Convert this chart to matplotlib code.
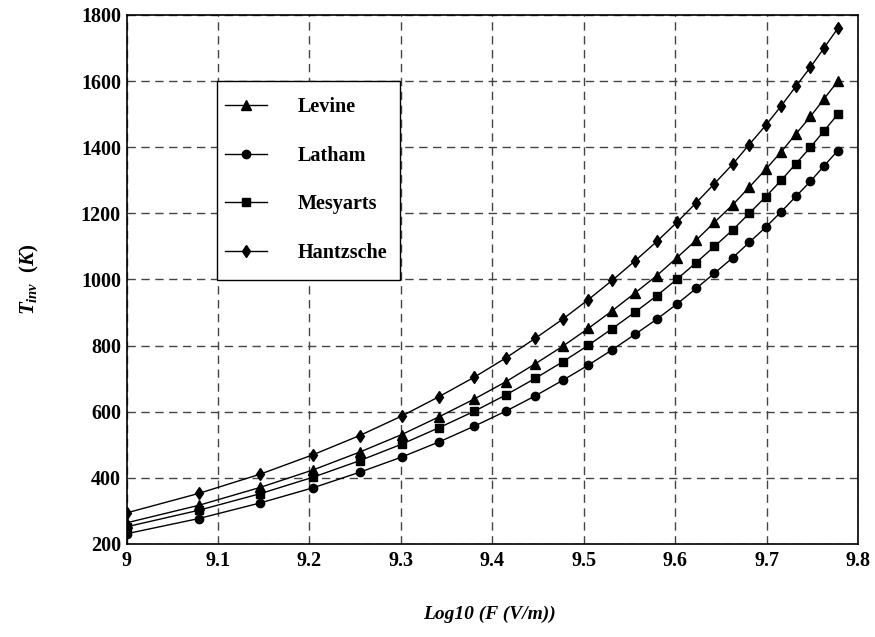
import matplotlib
matplotlib.use("Agg")
import matplotlib.pyplot as plt
from matplotlib.patches import Rectangle

log_f = [9.000, 9.079, 9.146, 9.204, 9.255, 9.301, 9.342, 9.380, 9.415, 9.447,
         9.477, 9.505, 9.531, 9.556, 9.580, 9.602, 9.623, 9.643, 9.663, 9.681,
         9.699, 9.716, 9.732, 9.748, 9.763, 9.778]

levine = [264, 317, 371, 424, 478, 531, 585, 638, 691, 745, 798, 852, 905, 959,
          1012, 1066, 1119, 1173, 1226, 1279, 1333, 1386, 1440, 1493, 1547, 1600]
latham = [231, 277, 324, 370, 417, 463, 509, 556, 602, 648, 695, 741, 787, 834,
          880, 926, 973, 1019, 1066, 1112, 1158, 1205, 1251, 1297, 1344, 1390]
mesyarts = [252, 302, 352, 402, 452, 502, 552, 601, 651, 701, 751, 801, 851, 901,
            951, 1001, 1051, 1100, 1150, 1200, 1250, 1300, 1350, 1400, 1450, 1500]
hantzsche = [294, 353, 411, 470, 528, 587, 646, 704, 763, 822, 880, 939, 997, 1056,
             1115, 1173, 1232, 1290, 1349, 1408, 1466, 1525, 1584, 1642, 1701, 1760]

x_ticks = [9, 9.1, 9.2, 9.3, 9.4, 9.5, 9.6, 9.7, 9.8]
x_tick_labels = ["9", "9.1", "9.2", "9.3", "9.4", "9.5", "9.6", "9.7", "9.8"]
y_ticks = [200, 400, 600, 800, 1000, 1200, 1400, 1600, 1800]

plt.rcParams['font.family'] = ['Liberation Serif', 'DejaVu Serif']
plt.rcParams['mathtext.fontset'] = 'custom'
plt.rcParams['mathtext.it'] = 'Liberation Serif:italic:bold'
plt.rcParams['mathtext.rm'] = 'Liberation Serif:bold'
plt.rcParams['mathtext.bf'] = 'Liberation Serif:bold'

fig = plt.figure(figsize=(8.75, 6.37), dpi=100)
ax = fig.add_axes([0.1446, 0.146, 0.836, 0.8305])

series = [("Levine", levine, "^", 6.5),
          ("Latham", latham, "o", 6),
          ("Mesyarts", mesyarts, "s", 6),
          ("Hantzsche", hantzsche, "d", 6.5)]
for name, vals, m, ms in series:
    ax.plot(log_f, vals, color="black", lw=1.0, marker=m, markersize=ms,
            markerfacecolor="black", markeredgecolor="black", label=name)

ax.set_xlim(9, 9.8)
ax.set_ylim(200, 1800)
ax.set_xticks(x_ticks)
ax.set_xticklabels(x_tick_labels)
ax.set_yticks(y_ticks)
ax.grid(True, linestyle=(0, (6, 4)), color="#444444", linewidth=1.0)
ax.tick_params(length=0, labelsize=14.5)
ax.tick_params(axis="x", pad=5)
ax.tick_params(axis="y", pad=4)
for lbl in ax.get_xticklabels() + ax.get_yticklabels():
    lbl.set_fontweight("bold")
for s in ax.spines.values():
    s.set_linewidth(1.2)
    s.set_color("black")

fig.text(0.56, 0.022, "Log10 (F (V/m))", ha="center", va="bottom",
         fontsize=14, fontweight="bold", fontstyle="italic")
fig.text(0.034, 0.561, r"$T_{inv}$  $\mathit{(K)}$", ha="center", va="center",
         rotation=90, fontsize=15)

# legend frame
ax.add_patch(Rectangle((0.124, 0.499), 0.250, 0.377, transform=ax.transAxes,
                       facecolor="white", edgecolor="black", linewidth=1.0,
                       zorder=4))
leg = ax.legend(loc="upper left", bbox_to_anchor=(0.124, 0.860), ncol=1,
                prop={"family": "Liberation Serif", "weight": "bold", "size": 14.5},
                frameon=False, borderpad=0.4, labelspacing=1.42,
                handlelength=2.05, handletextpad=1.55, numpoints=1,
                borderaxespad=0)
leg.set_zorder(5)

fig.savefig("out.png", dpi=100)
